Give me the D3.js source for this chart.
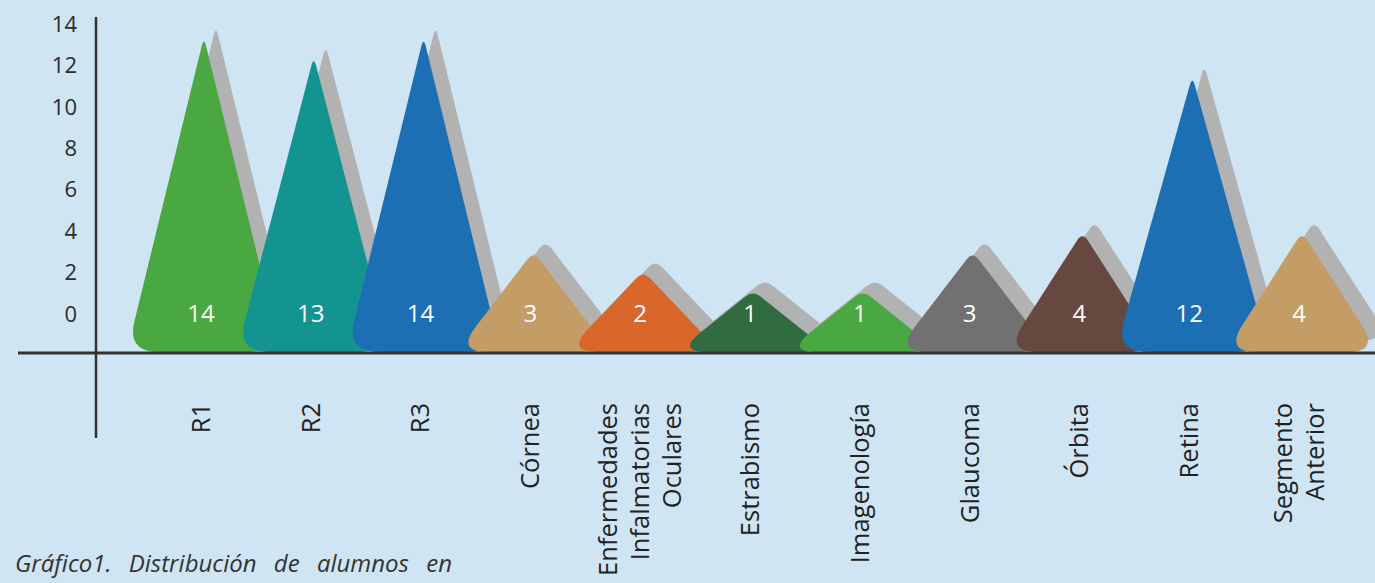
<!DOCTYPE html>
<html>
<head>
<meta charset="utf-8">
<script src="https://cdn.jsdelivr.net/npm/d3@7"></script>
<style>
  html, body { margin: 0; padding: 0; background: #cfe5f3; }
  svg { display: block; font-family: "Open Sans", sans-serif; }
</style>
</head>
<body>
<svg id="chart"></svg>
<script>
const categories = ["R1", "R2", "R3", "Córnea", "Enfermedades\nInfalmatorias\nOculares", "Estrabismo",
    "Imagenología", "Glaucoma", "Órbita", "Retina", "Segmento\nAnterior"];
const values = [14, 13, 14, 3, 2, 1, 1, 3, 4, 12, 4];
const colors = ["#4aa843", "#139491", "#1d6fb3", "#c49c66", "#d9662b", "#306c40",
    "#4aa843", "#727070", "#674840", "#1d6fb3", "#c49c66"];
const yTicks = [0, 2, 4, 6, 8, 10, 12, 14];
const caption = "Gráfico1. Distribución de alumnos en";

const width = 1375, height = 583;
const baseY = 352;

const svg = d3.select("#chart")
    .attr("width", width)
    .attr("height", height);

svg.append("rect")
    .attr("width", width)
    .attr("height", height)
    .attr("fill", "#cfe5f3");

const x = d3.scaleBand()
    .domain(categories)
    .range([146, 1354])
    .padding(0);

// cone heights
const y = d3.scaleLinear().domain([0, 14]).range([310, 37]);
// tick labels sit a bit off the cones, like in the original
const yAxisScale = d3.scaleLinear().domain([0, 14]).range([314, 24]);

const halfW = 77;
const shadowDx = 12, shadowDy = -11;

function conePath(cx, tipY) {
    const pts = [[cx + 3, tipY], [cx + 3 + halfW, baseY], [cx + 3 - halfW, baseY]];
    const radii = [10, 32, 32];
    const p = d3.path();
    pts.forEach((pt, i) => {
        const a = pts[(i + pts.length - 1) % pts.length];
        const b = pts[(i + 1) % pts.length];
        const r = radii[i];
        const la = Math.hypot(a[0] - pt[0], a[1] - pt[1]);
        const lb = Math.hypot(b[0] - pt[0], b[1] - pt[1]);
        const p1 = [pt[0] + (a[0] - pt[0]) * r / la, pt[1] + (a[1] - pt[1]) * r / la];
        const p2 = [pt[0] + (b[0] - pt[0]) * r / lb, pt[1] + (b[1] - pt[1]) * r / lb];
        if (i === 0) p.moveTo(p1[0], p1[1]); else p.lineTo(p1[0], p1[1]);
        p.quadraticCurveTo(pt[0], pt[1], p2[0], p2[1]);
    });
    p.closePath();
    return p.toString();
}

const data = categories.map((c, i) => ({ cat: c, value: values[i], color: colors[i] }));
const cx = d => x(d.cat) + x.bandwidth() / 2;

// each cone with its grey shadow, later ones in front
const cones = svg.append("g").selectAll("g")
    .data(data)
    .join("g");

cones.append("path")
    .attr("d", d => conePath(cx(d), y(d.value)))
    .attr("transform", `translate(${shadowDx},${shadowDy})`)
    .attr("fill", "#b2b2b2");

cones.append("path")
    .attr("d", d => conePath(cx(d), y(d.value)))
    .attr("fill", d => d.color);

svg.append("g").selectAll("text")
    .data(data)
    .join("text")
    .attr("x", d => cx(d))
    .attr("y", 322)
    .attr("text-anchor", "middle")
    .attr("font-size", 24)
    .attr("fill", "#ffffff")
    .text(d => d.value);

// axes
svg.append("line")
    .attr("x1", 18).attr("x2", width)
    .attr("y1", baseY + 1).attr("y2", baseY + 1)
    .attr("stroke", "#333333")
    .attr("stroke-width", 3);

svg.append("line")
    .attr("x1", 96).attr("x2", 96)
    .attr("y1", 17).attr("y2", 438)
    .attr("stroke", "#333333")
    .attr("stroke-width", 2.5);

svg.append("g").selectAll("text")
    .data(yTicks)
    .join("text")
    .attr("x", 77)
    .attr("y", d => yAxisScale(d))
    .attr("dy", "0.35em")
    .attr("text-anchor", "end")
    .attr("font-size", 22)
    .attr("fill", "#2b2b2b")
    .text(d => d);

// rotated category labels
const labels = svg.append("g").selectAll("g")
    .data(data)
    .join("g");

labels.each(function (d) {
    const lines = d.cat.split("\n");
    d3.select(this).selectAll("text")
        .data(lines)
        .join("text")
        .attr("transform", (l, j) => `translate(${cx(d) + (j - (lines.length - 1) / 2) * 32},403) rotate(-90)`)
        .attr("dy", "0.35em")
        .attr("text-anchor", "end")
        .attr("font-size", 25.5)
        .attr("fill", "#222222")
        .text(l => l);
});

svg.append("text")
    .attr("x", 15)
    .attr("y", 572)
    .attr("font-size", 24)
    .attr("font-style", "italic")
    .attr("word-spacing", 11)
    .attr("fill", "#333333")
    .text(caption);
</script>
</body>
</html>
